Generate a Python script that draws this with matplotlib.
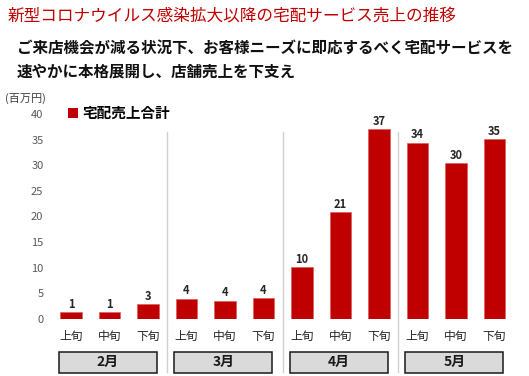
import matplotlib.pyplot as plt
from matplotlib.patches import Patch, Rectangle

plt.rcParams['font.family'] = ['Noto Sans CJK JP', 'DejaVu Sans']

# データ（百万円）
months = ["2月", "3月", "4月", "5月"]
periods = ["上旬", "中旬", "下旬"]
sales = [1.3, 1.3, 2.9, 4.0, 3.6, 4.1, 10.1, 20.8, 37.0, 34.4, 30.4, 35.1]
yticks = [0, 5, 10, 15, 20, 25, 30, 35, 40]

RED = "#C00000"
W, H = 529, 376

fig = plt.figure(figsize=(W / 100, H / 100), dpi=100)
# 軸の位置（ピクセル基準）
ax = fig.add_axes([51.75 / W, (H - 319) / H, 462 / W, 205 / H])

x = list(range(len(sales)))
bars = ax.bar(x, sales, width=0.55, color=RED, edgecolor="#D9534F", linewidth=0.4)
ax.bar_label(bars, labels=[f"{v:.0f}" for v in sales], padding=1,
             fontsize=8, fontweight="bold", color="#262626")

ax.set_xlim(-0.5, len(sales) - 0.5)
ax.set_ylim(0, 40)
ax.set_yticks(yticks)
ax.set_yticklabels([str(t) for t in yticks], fontsize=8, color="#595959")
ax.set_xticks(x)
ax.set_xticklabels(periods * len(months), fontsize=8.5, color="#262626")
ax.tick_params(axis="x", length=0, pad=8)
ax.tick_params(axis="y", length=0, pad=6)
for s in ax.spines.values():
    s.set_visible(False)

# 月の区切り線と月ラベルの箱
trans = ax.get_xaxis_transform()
n = len(periods)
for i, m in enumerate(months):
    start = i * n
    if i > 0:
        ax.plot([start - 0.5, start - 0.5], [-0.259, 0.912], color="#D0D0D0",
                lw=1.0, transform=trans, clip_on=False)
    box = Rectangle((start - 0.32, -0.262), 2.55, 0.102, transform=trans,
                    facecolor="#DADADA", edgecolor="#1A1A1A", lw=1.1, clip_on=False)
    ax.add_patch(box)
    ax.text(start + 0.955, -0.211, m, transform=trans, ha="center", va="center",
            fontsize=10, fontweight="bold", color="#1A1A1A")

# 凡例
ax.legend(handles=[Patch(facecolor=RED, label="宅配売上合計")], loc="center left",
          bbox_to_anchor=(68 / W, 1 - 113 / H), bbox_transform=fig.transFigure,
          frameon=False, handlelength=0.7, handleheight=0.7, handletextpad=0.3,
          borderpad=0, borderaxespad=0,
          prop={"size": 10.5, "weight": "bold"})

fig.text(5 / W, 1 - 98 / H, "(百万円)", fontsize=8, color="#404040", va="center")

# タイトル
fig.text(8 / W, 1 - 16 / H, "新型コロナウイルス感染拡大以降の宅配サービス売上の推移",
         fontsize=12, color=RED, va="center")
fig.text(17 / W, 1 - 48 / H, "ご来店機会が減る状況下、お客様ニーズに即応するべく宅配サービスを",
         fontsize=11.2, fontweight="bold", color="#111111", va="center")
fig.text(17 / W, 1 - 72 / H, "速やかに本格展開し、店舗売上を下支え",
         fontsize=11.2, fontweight="bold", color="#111111", va="center")

fig.savefig("out.png", dpi=100)
